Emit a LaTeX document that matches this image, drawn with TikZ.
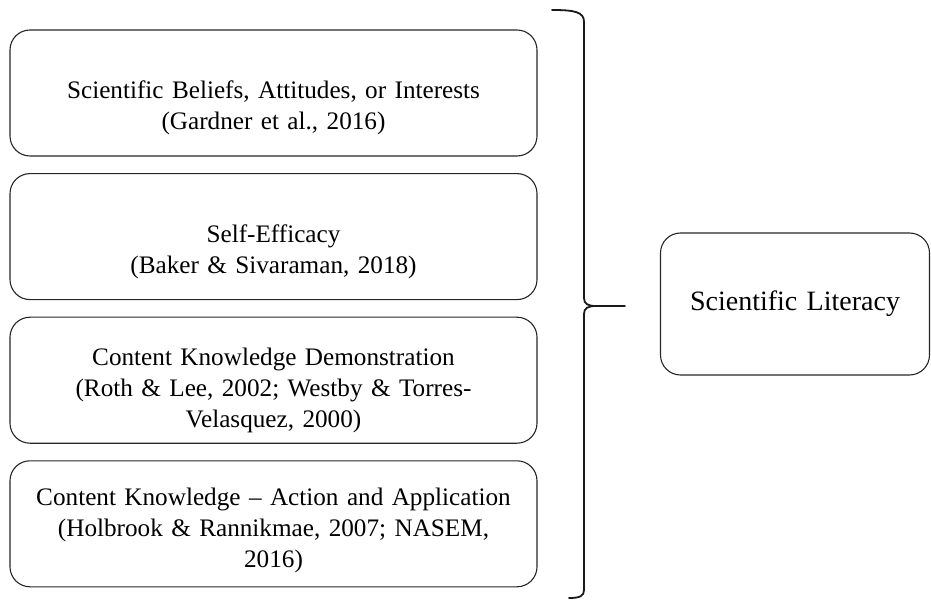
\documentclass[tikz,border=0pt]{standalone}
\usepackage{fontspec}
\setmainfont{Liberation Serif}
\usetikzlibrary{positioning}

\begin{document}
\begin{tikzpicture}[
  x=1pt, y=-1pt,
  item/.style={draw=black!85, line width=1.1pt, rounded corners=20pt,
              minimum width=527pt, minimum height=126pt,
              text width=500pt, align=center, inner sep=0pt,
              font=\fontsize{25.2}{31}\selectfont},
  drop/.style={execute at begin node={\rule{0pt}{#1}}},
  goal/.style={item, minimum width=269pt, minimum height=142pt,
              text width=250pt, font=\fontsize{28}{33}\selectfont},
  brc/.style={line width=1.8pt, black!90, line cap=round},
  node distance=16.5pt,
]
  \useasboundingbox (0,0) rectangle (931,601);
  \node[item, drop=48pt] (beliefs) at (273.5,93)
    {Scientific Beliefs, Attitudes, or Interests\\(Gardner et al., 2016)};
  \node[item, drop=48pt, below=of beliefs] (efficacy)
    {Self-Efficacy\\(Baker \& Sivaraman, 2018)};
  \node[item, drop=38pt, below=of efficacy] (demo)
    {Content Knowledge Demonstration\\(Roth \& Lee, 2002; Westby \& Torres-\\Velasquez, 2000)};
  \node[item, drop=30pt, below=of demo] (action)
    {Content Knowledge -- Action and Application\\(Holbrook \& Rannikmae, 2007; NASEM,\\2016)};
  \node[goal] (literacy) at (795,304) {Scientific Literacy};
  % brace
  \coordinate (btop) at (552,10);
  \coordinate (bbot) at (569,598);
  \coordinate (btip) at (625,306);
  \draw[brc] (btop) .. controls (575,10) and (584,12) .. (584,22)
    -- (584,298) .. controls (584,304) and (588,306) .. (596,306) -- (btip);
  \draw[brc] (596,306) .. controls (588,306) and (584,308) .. (584,314)
    -- (584,590) .. controls (584,596) and (580,598) .. (bbot);
\end{tikzpicture}
\end{document}
